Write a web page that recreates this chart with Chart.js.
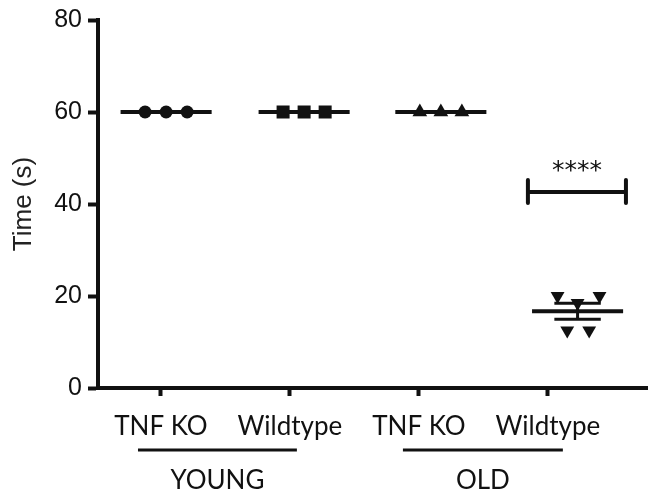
<!DOCTYPE html>
<html>
<head>
<meta charset="utf-8">
<script src="https://cdn.jsdelivr.net/npm/chart.js@4.4.1/dist/chart.umd.min.js"></script>
<style>
  html, body { margin: 0; padding: 0; background: #fff; }
  #wrap { width: 648px; height: 491px; }
</style>
</head>
<body>
<div id="wrap"><canvas id="chart" width="648" height="491"></canvas></div>
<script>
// categorias y grupos
const categories = ['TNF KO', 'Wildtype', 'TNF KO', 'Wildtype'];
const groupNames = ['YOUNG', 'OLD'];
const yTicks = [0, 20, 40, 60, 80];

// posicion de cada grupo en el eje x y jitter de los puntos
const groupX = [0.04, 1.11, 2.17, 3.23];
const jitter3 = [-0.163, 0, 0.163];
const jitterOldWt = [-0.155, 0.0, 0.17, -0.08, 0.09];

// valores (s)
const youngKo = [60, 60, 60];
const youngWt = [60, 60, 60];
const oldKo = [60, 60, 60];
const oldWt = [20, 18.5, 20, 12.5, 12.5];

// significancia
const sigLevel = 42.6;
const sigFrom = 2.845;
const sigTo = 3.605;
const sigLabel = '****';

const INK = '#111';
const meanHalf = 0.353;
const capHalf = 0.18;

function mean(a) { return a.reduce((s, v) => s + v, 0) / a.length; }
function sem(a) {
    const m = mean(a);
    const sd = Math.sqrt(a.reduce((s, v) => s + (v - m) * (v - m), 0) / (a.length - 1));
    return sd / Math.sqrt(a.length);
}

function pts(vals, cx, jit) {
    return vals.map((v, i) => ({ x: cx + jit[i], y: v }));
}

function seg(x1, y1, x2, y2, width) {
    return {
        type: 'line',
        data: [{ x: x1, y: y1 }, { x: x2, y: y2 }],
        borderColor: INK,
        borderWidth: width,
        borderCapStyle: 'butt',
        pointRadius: 0,
        order: 5
    };
}

function scatter(vals, cx, jit, style, radius, rotation) {
    return {
        type: 'scatter',
        data: pts(vals, cx, jit),
        pointStyle: style,
        pointRadius: radius,
        pointRotation: rotation || 0,
        backgroundColor: INK,
        borderColor: INK,
        borderWidth: 0,
        order: 10
    };
}

const allGroups = [youngKo, youngWt, oldKo, oldWt];
const datasets = [
    scatter(youngKo, groupX[0], jitter3, 'circle', 6.5),
    scatter(youngWt, groupX[1], jitter3, 'rect', 9.2),
    scatter(oldKo, groupX[2], jitter3, 'triangle', 8.5),
    scatter(oldWt, groupX[3], jitterOldWt, 'triangle', 8, 180)
];

// lineas de media
allGroups.forEach((g, i) => {
    const m = mean(g);
    datasets.push(seg(groupX[i] - meanHalf, m, groupX[i] + meanHalf, m, 4));
});

// barra de error (SEM) solo para OLD wildtype
const mOld = mean(oldWt), eOld = sem(oldWt);
datasets.push(seg(groupX[3], mOld - eOld, groupX[3], mOld + eOld, 3));
datasets.push(seg(groupX[3] - capHalf, mOld + eOld, groupX[3] + capHalf, mOld + eOld, 3));
datasets.push(seg(groupX[3] - capHalf, mOld - eOld, groupX[3] + capHalf, mOld - eOld, 3));

// corchete de significancia
datasets.push(seg(sigFrom, sigLevel, sigTo, sigLevel, 4));
datasets.push(Object.assign(seg(sigFrom, sigLevel - 2.4, sigFrom, sigLevel + 2.6, 4), { borderCapStyle: 'round' }));
datasets.push(Object.assign(seg(sigTo, sigLevel - 2.4, sigTo, sigLevel + 2.6, 4), { borderCapStyle: 'round' }));

// texto extra: asteriscos y grupos YOUNG / OLD
const extrasPlugin = {
    id: 'extras',
    afterDraw(chart) {
        const ctx = chart.ctx;
        const xs = chart.scales.x, ys = chart.scales.y;
        ctx.save();
        ctx.fillStyle = INK;
        ctx.strokeStyle = INK;
        ctx.textAlign = 'center';
        ctx.textBaseline = 'alphabetic';
        ctx.font = '25px "DejaVu Sans"';
        const sx = (xs.getPixelForValue(sigFrom) + xs.getPixelForValue(sigTo)) / 2;
        ctx.fillText(sigLabel, sx, ys.getPixelForValue(sigLevel) - 14);

        // lineas de grupo
        const spans = [[-0.178, 1.054], [1.876, 3.116]];
        const base = ys.getPixelForValue(0);
        ctx.lineWidth = 3;
        spans.forEach((s, i) => {
            const x1 = xs.getPixelForValue(s[0]);
            const x2 = xs.getPixelForValue(s[1]);
            const ly = base + 62;
            ctx.beginPath();
            ctx.moveTo(x1, ly);
            ctx.lineTo(x2, ly);
            ctx.stroke();
            ctx.font = '26px Lato';
            ctx.fillText(groupNames[i], (x1 + x2) / 2, ly + 39);
        });
        ctx.restore();
    }
};

new Chart(document.getElementById('chart').getContext('2d'), {
    data: { datasets: datasets },
    options: {
        responsive: false,
        animation: false,
        devicePixelRatio: 1,
        layout: { autoPadding: false, padding: { top: 20, right: 0, bottom: 0, left: 0 } },
        plugins: {
            legend: { display: false },
            tooltip: { enabled: false }
        },
        scales: {
            x: {
                type: 'linear',
                min: -0.488,
                max: 3.776,
                afterBuildTicks: (s) => { s.ticks = categories.map((c, i) => ({ value: i })); },
                afterFit: (s) => {
                    s.height = 103;
                    s.paddingLeft = 0;
                    s.paddingRight = 0;
                },
                ticks: {
                    callback: (v) => categories[v],
                    color: INK,
                    font: { family: 'Lato', size: 26 },
                    padding: 15,
                    maxRotation: 0,
                    autoSkip: false
                },
                grid: {
                    drawOnChartArea: false,
                    drawTicks: true,
                    tickLength: 8,
                    tickWidth: 4,
                    tickColor: INK
                },
                border: { display: true, color: INK, width: 4 }
            },
            y: {
                type: 'linear',
                min: 0,
                max: 80,
                afterBuildTicks: (s) => { s.ticks = yTicks.map(v => ({ value: v })); },
                afterFit: (s) => {
                    s.width = 98;
                    s.paddingTop = 0;
                    s.paddingBottom = 0;
                },
                ticks: {
                    color: INK,
                    font: { family: 'Liberation Sans', size: 25 },
                    padding: 6
                },
                grid: {
                    drawOnChartArea: false,
                    drawTicks: true,
                    tickLength: 10,
                    tickWidth: 4,
                    tickColor: INK
                },
                border: { display: true, color: INK, width: 4 },
                title: {
                    display: true,
                    text: 'Time (s)',
                    color: '#222',
                    font: { family: 'Liberation Sans', size: 26 },
                    padding: { top: 8, bottom: 0 }
                }
            }
        }
    },
    plugins: [extrasPlugin]
});
</script>
</body>
</html>
